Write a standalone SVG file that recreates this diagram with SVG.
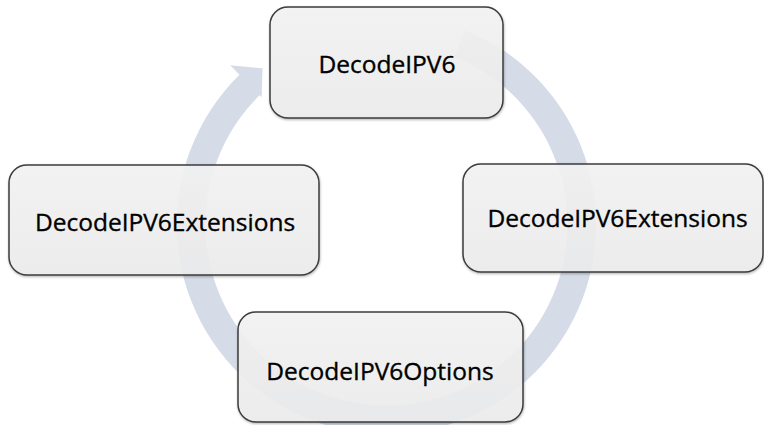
<svg xmlns="http://www.w3.org/2000/svg" width="764" height="425" viewBox="0 0 764 425">
  <defs>
    <linearGradient id="boxFill" x1="0" y1="0" x2="0" y2="1">
      <stop offset="0" stop-color="#f5f5f5"/>
      <stop offset="1" stop-color="#eeeeee"/>
    </linearGradient>
    <filter id="shadow" x="-10%" y="-10%" width="120%" height="130%">
      <feDropShadow dx="0.5" dy="1.2" stdDeviation="1" flood-color="#000" flood-opacity="0.3"/>
    </filter>
    <style>
      .box { fill: url(#boxFill); fill-opacity: 0.88; stroke: #3c3c3c; stroke-width: 1.5; filter: url(#shadow); }
      .label { font-family: "Open Sans", "Liberation Sans", sans-serif; font-size: 24.5px; fill: #000; stroke: #000; stroke-width: 0.35; text-anchor: middle; }
      .ring { fill: #d5dce8; stroke: none; }
    </style>
  </defs>
  <rect width="764" height="425" fill="#ffffff"/>

  <g id="connectors">
    <path class="ring" d="M 465.1 30.0 A 209.7 209.7 0 1 1 239.5 74.8 L 230.2 65.3 L 262.5 68.3 L 261.7 97.4 L 259.6 95.3 A 181 181 0 1 0 454.3 56.6 Z"/>
  </g>

  <g id="node-top">
    <rect class="box" x="270" y="7" width="233" height="111" rx="18" ry="18"/>
    <text class="label" x="387" y="73">DecodeIPV6</text>
  </g>
  <g id="node-left">
    <rect class="box" x="9" y="165" width="310" height="110" rx="18" ry="18"/>
    <text class="label" x="165" y="231">DecodeIPV6Extensions</text>
  </g>
  <g id="node-right">
    <rect class="box" x="463" y="164" width="300" height="108" rx="18" ry="18"/>
    <text class="label" x="617.5" y="227">DecodeIPV6Extensions</text>
  </g>
  <g id="node-bottom">
    <rect class="box" x="238" y="312" width="285" height="110" rx="18" ry="18"/>
    <text class="label" x="380" y="380">DecodeIPV6Options</text>
  </g>
</svg>
